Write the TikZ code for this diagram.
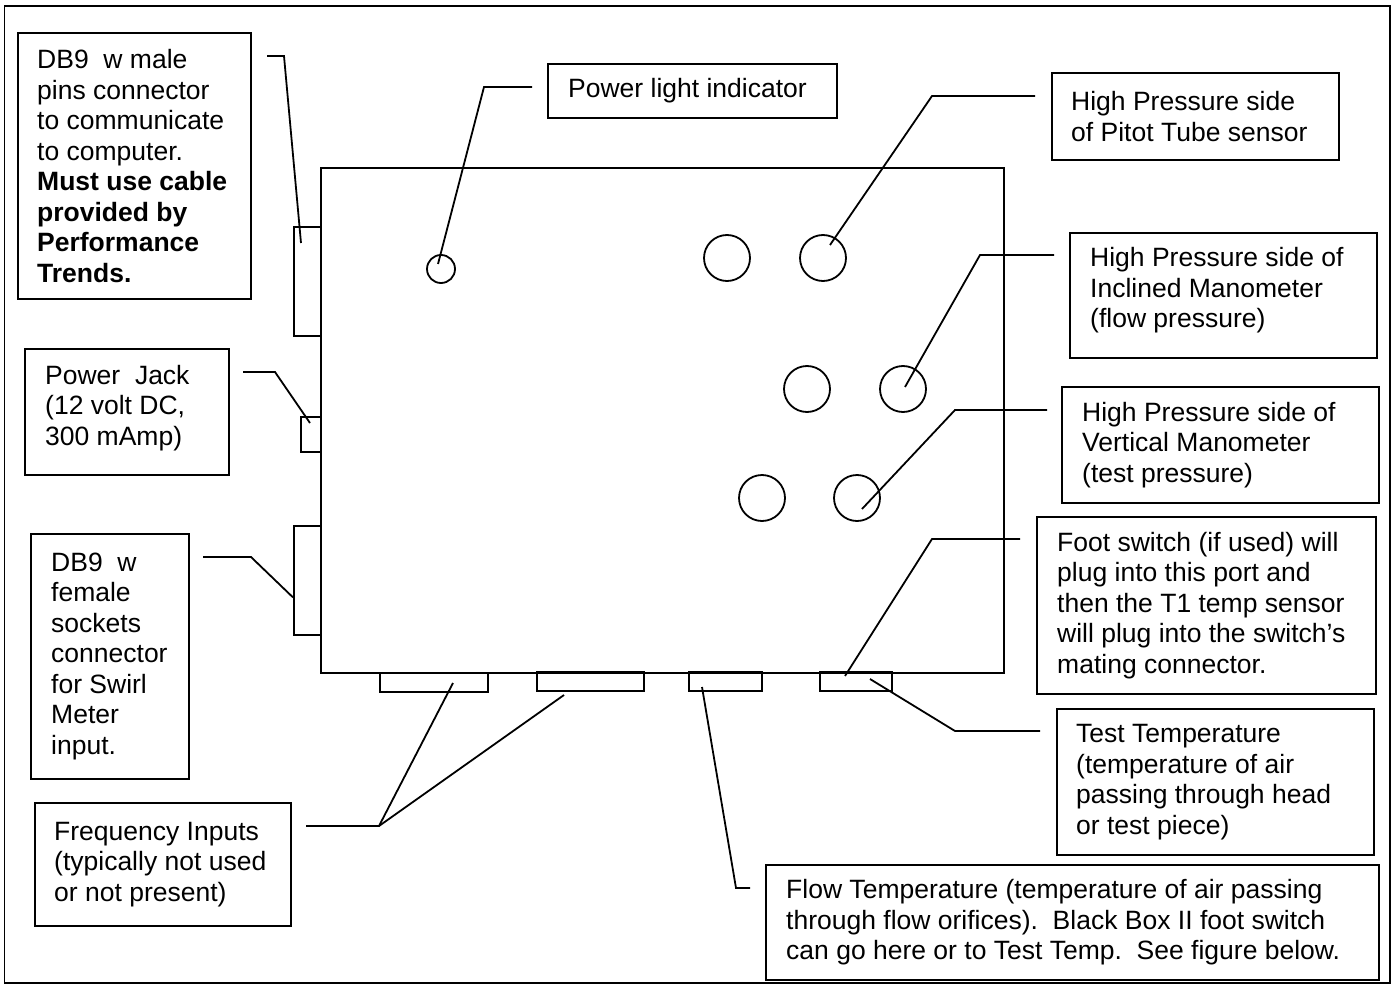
\documentclass[tikz,border=0pt]{standalone}
\usepackage{fontspec}
\setmainfont{Liberation Sans}
\usetikzlibrary{positioning}

\begin{document}
\begin{tikzpicture}[x=1pt, y=-1pt,
  frame/.style={draw, line width=1.8pt, anchor=north west, inner sep=0pt},
  note/.style={align=left, inner sep=0pt, font=\fontsize{26.5}{30.5}\selectfont},
  port/.style={draw, line width=1.8pt, anchor=north west, inner sep=0pt},
  hole/.style={draw, line width=1.8pt, circle, inner sep=0pt, minimum size=46pt},
  lead/.style={line width=1.8pt},
  ]
  \useasboundingbox (0,0) rectangle (1395,987);
  \draw[line width=1.8pt] (4.5,6) rectangle (1390,983);

  % the unit and its connectors
  \node[frame, minimum width=683pt, minimum height=505pt] (unit) at (320,167) {};
  \node[port, minimum width=27pt, minimum height=109pt] (serial) at (293,226) {};
  \node[port, minimum width=20pt, minimum height=35pt] (jack) at (300,416) {};
  \node[port, minimum width=27pt, minimum height=109pt] (swirl) at (293,525) {};
  \node[port, minimum width=108pt, minimum height=19pt] (freqa) at (379,672) {};
  \node[port, minimum width=107pt, minimum height=19pt] (freqb) at (536,671) {};
  \node[port, minimum width=73pt, minimum height=19pt] (flowt) at (688,671) {};
  \node[port, minimum width=72pt, minimum height=19pt] (testt) at (819,671) {};

  \node[hole, minimum size=28pt] (lamp) at (441,269) {};
  \node[hole] (pitotlo) at (727,258) {};
  \node[hole] (pitothi) at (823,258) {};
  \node[hole] (incllo) at (807,389) {};
  \node[hole] (inclhi) at (903,389) {};
  \node[hole] (vertlo) at (762,498) {};
  \node[hole] (verthi) at (857,498) {};

  % label boxes
  \node[frame, minimum width=233pt, minimum height=266pt] (serialbox) at (17,32) {};
  \node[note, right=20pt of serialbox.west] (serialtext) {DB9~~w male\\pins connector\\to communicate\\to computer.\\
    \textbf{Must use cable}\\\textbf{provided by}\\\textbf{Performance}\\\textbf{Trends.}};
  \node[frame, minimum width=204pt, minimum height=126pt] (jackbox) at (24,348) {};
  \node[note, right=21pt of jackbox.west, yshift=4pt] (jacktext) {Power~~Jack\\(12 volt DC,\\300 mAmp)};
  \node[frame, minimum width=158pt, minimum height=245pt] (swirlbox) at (30,533) {};
  \node[note, right=21pt of swirlbox.west] (swirltext) {DB9~~w\\female\\sockets\\connector\\for Swirl\\Meter\\input.};
  \node[frame, minimum width=256pt, minimum height=123pt] (freqbox) at (34,802) {};
  \node[note, right=20pt of freqbox.west] (freqtext) {Frequency Inputs\\(typically not used\\or not present)};
  \node[frame, minimum width=289pt, minimum height=54pt] (lampbox) at (547,63) {};
  \node[note, right=21pt of lampbox.west] (lamptext) {Power light indicator};
  \node[frame, minimum width=287pt, minimum height=87pt] (pitotbox) at (1051,72) {};
  \node[note, right=20pt of pitotbox.west] (pitottext) {High Pressure side\\of Pitot Tube sensor};
  \node[frame, minimum width=307pt, minimum height=125pt] (inclbox) at (1069,232) {};
  \node[note, right=21pt of inclbox.west, yshift=5pt] (incltext) {High Pressure side of\\Inclined Manometer\\(flow pressure)};
  \node[frame, minimum width=317pt, minimum height=116pt] (vertbox) at (1061,386) {};
  \node[note, right=21pt of vertbox.west] (verttext) {High Pressure side of\\Vertical Manometer\\(test pressure)};
  \node[frame, minimum width=339pt, minimum height=177pt] (switchbox) at (1036,516) {};
  \node[note, right=21pt of switchbox.west] (switchtext) {Foot switch (if used) will\\plug into this port and\\
    then the T1 temp sensor\\will plug into the switch’s\\mating connector.};
  \node[frame, minimum width=317pt, minimum height=146pt] (testbox) at (1056,708) {};
  \node[note, right=20pt of testbox.west] (testtext) {Test Temperature\\(temperature of air\\passing through head\\or test piece)};
  \node[frame, minimum width=613pt, minimum height=115pt] (flowbox) at (765,864) {};
  \node[note, right=21pt of flowbox.west] (flowtext) {Flow Temperature (temperature of air passing\\
    through flow orifices).~\ Black Box II foot switch\\can go here or to Test Temp.~\ See figure below.};

  % leader lines
  \coordinate (serialtail) at (267,56);  \coordinate (serialknee) at (284,56);
  \coordinate (jacktail) at (243,372);   \coordinate (jackknee) at (275,372);
  \coordinate (swirltail) at (203,557);  \coordinate (swirlknee) at (251,557);
  \coordinate (freqtail) at (306,826);   \coordinate (freqknee) at (379,826);
  \coordinate (lamptail) at (532,87);    \coordinate (lampknee) at (484,87);
  \coordinate (pitottail) at (1035,96);  \coordinate (pitotknee) at (932,96);
  \coordinate (incltail) at (1054,255);  \coordinate (inclknee) at (980,255);
  \coordinate (verttail) at (1047,410);  \coordinate (vertknee) at (955,410);
  \coordinate (switchtail) at (1020,539); \coordinate (switchknee) at (932,539);
  \coordinate (testtail) at (1040,731);  \coordinate (testknee) at (955,731);
  \coordinate (flowtail) at (750,888);   \coordinate (flowknee) at (736,888);

  \draw[lead] (serialtail) -- (serialknee) -- ([shift={(8,17)}]serial.north west);
  \draw[lead] (jacktail) -- (jackknee) -- ([shift={(10,7)}]jack.north west);
  \draw[lead] (swirltail) -- (swirlknee) -- ([shift={(0,17)}]swirl.west);
  \draw[lead] (freqtail) -- (freqknee) -- ([shift={(74,11)}]freqa.north west);
  \draw[lead] (freqknee) -- ([shift={(28,24)}]freqb.north west);
  \draw[lead] (lamptail) -- (lampknee) -- ([shift={(-3,-5)}]lamp.center);
  \draw[lead] (pitottail) -- (pitotknee) -- ([shift={(7,-13)}]pitothi.center);
  \draw[lead] (incltail) -- (inclknee) -- ([shift={(2,-2)}]inclhi.center);
  \draw[lead] (verttail) -- (vertknee) -- ([shift={(5,11)}]verthi.center);
  \draw[lead] (switchtail) -- (switchknee) -- ([shift={(26,5)}]testt.north west);
  \draw[lead] (testtail) -- (testknee) -- ([shift={(51,8)}]testt.north west);
  \draw[lead] (flowtail) -- (flowknee) -- ([shift={(14,16)}]flowt.north west);
\end{tikzpicture}
\end{document}
